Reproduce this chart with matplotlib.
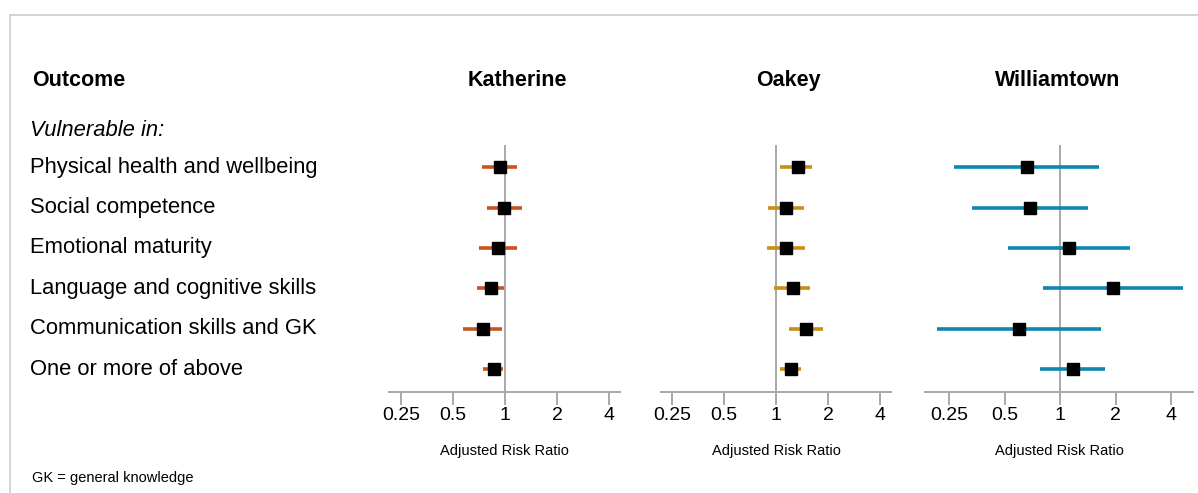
import numpy as np
import matplotlib
matplotlib.use("Agg")
import matplotlib.pyplot as plt
from matplotlib.transforms import blended_transform_factory
from matplotlib.patches import Rectangle

plt.rcParams['font.family'] = ['Liberation Sans', 'DejaVu Sans']

outcomes = ["Physical health and wellbeing", "Social competence", "Emotional maturity",
            "Language and cognitive skills", "Communication skills and GK", "One or more of above"]
sites = ["Katherine", "Oakey", "Williamtown"]
colors = ["#C9541C", "#C98E12", "#0E87B0"]

# adjusted risk ratio with 95% CI
katherine_rr = [0.94, 0.99, 0.91, 0.83, 0.75, 0.86]
katherine_lo = [0.74, 0.79, 0.71, 0.69, 0.57, 0.75]
katherine_hi = [1.18, 1.25, 1.17, 0.99, 0.96, 0.97]

oakey_rr = [1.34, 1.14, 1.14, 1.25, 1.49, 1.22]
oakey_lo = [1.06, 0.90, 0.89, 0.98, 1.19, 1.06]
oakey_hi = [1.62, 1.45, 1.47, 1.57, 1.87, 1.40]

williamtown_rr = [0.66, 0.69, 1.12, 1.93, 0.60, 1.17]
williamtown_lo = [0.268, 0.335, 0.52, 0.81, 0.215, 0.78]
williamtown_hi = [1.63, 1.42, 2.40, 4.63, 1.67, 1.74]

ticks = [0.25, 0.5, 1, 2, 4]
tick_labels = ["0.25", "0.5", "1", "2", "4"]

data = [(katherine_rr, katherine_lo, katherine_hi),
        (oakey_rr, oakey_lo, oakey_hi),
        (williamtown_rr, williamtown_lo, williamtown_hi)]

W, H = 1198, 493
fig = plt.figure(figsize=(W / 100, H / 100), dpi=100)

# frame
fig.patches.append(Rectangle((10 / W, -0.1), 1.2, 1 - 15 / H + 0.1, transform=fig.transFigure,
                             fill=False, edgecolor="#CCCCCC", linewidth=1.2))

# panel extents in pixels: left, right, xlim (log2), header centre
panels = [(389, 620, -2.23, 2.21, 517), (661, 891, -2.21, 2.21, 788), (925, 1193, -2.43, 2.39, 1058)]
top, bottom = 145, 392
gray = "#A8A8A8"

axes = []
for k, (l, r, x0, x1, hx) in enumerate(panels):
    ax = fig.add_axes([l / W, 1 - bottom / H, (r - l) / W, (bottom - top) / H])
    rr, lo, hi = data[k]
    y = np.arange(len(outcomes))
    ax.hlines(y, lo, hi, color=colors[k], linewidth=2.6, zorder=2)
    ax.plot(rr, y, "s", color="black", markersize=9, zorder=3)
    ax.axvline(1, color=gray, linewidth=1.4, zorder=1)
    ax.set_xscale("log", base=2)
    ax.set_xlim(2 ** x0, 2 ** x1)
    ax.set_ylim(5.57, -0.553)
    ax.set_xticks(ticks)
    ax.set_xticklabels(tick_labels)
    ax.minorticks_off()
    ax.set_yticks([])
    for s in ["top", "right", "left"]:
        ax.spines[s].set_visible(False)
    ax.spines["bottom"].set_color(gray)
    ax.spines["bottom"].set_linewidth(1.4)
    ax.tick_params(axis="x", colors=gray, length=9, width=1.4, labelsize=14,
                   labelcolor="black", pad=2)
    ax.set_xlabel("Adjusted Risk Ratio", fontsize=10.5, labelpad=14)
    ax.patch.set_alpha(0)
    fig.text(hx / W, 1 - 86 / H, sites[k], fontsize=15.5, fontweight="bold",
             ha="center", va="baseline")
    axes.append(ax)

trans = blended_transform_factory(fig.transFigure, axes[0].transData)
for i, name in enumerate(outcomes):
    fig.text(30 / W, i, name, transform=trans, fontsize=15.8, va="center", ha="left")

fig.text(32 / W, 1 - 86 / H, "Outcome", fontsize=15.5, fontweight="bold", va="baseline")
fig.text(30 / W, 1 - 130 / H, "Vulnerable in:", fontsize=15.8, style="italic", va="center")
fig.text(32 / W, 1 - 478 / H, "GK = general knowledge", fontsize=10.5, va="center")

fig.savefig("out.png", dpi=100)
